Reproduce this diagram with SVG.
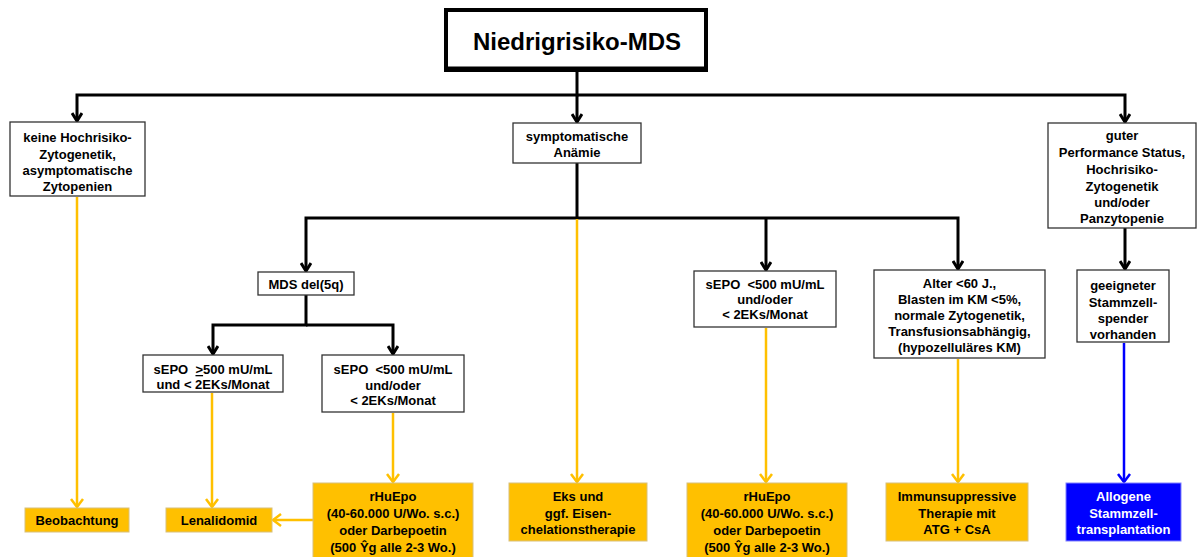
<svg xmlns="http://www.w3.org/2000/svg" width="1197" height="557" viewBox="0 0 1197 557">
<style>
.box{fill:#fff;stroke:#333;stroke-width:1.3}
.obox{fill:#FFC000;stroke:#d8c07a;stroke-width:1}
.bbox{fill:#0000FF;stroke:#8080ff;stroke-width:1}
text{font-family:"Liberation Sans",Arial,sans-serif;font-weight:bold;font-size:13px;text-anchor:middle;fill:#000}
.w{fill:#fff}
.title{font-size:24px}
.k{fill:none;stroke:#000;stroke-width:3}
.o{fill:none;stroke:#FFC000;stroke-width:2.5}
.bl{fill:none;stroke:#0000FF;stroke-width:2.5}
</style>
<defs>
<marker id="ak" markerUnits="userSpaceOnUse" viewBox="0 0 12 12" refX="10" refY="6" markerWidth="12" markerHeight="12" orient="auto"><path d="M2,1 L10,6 L2,11" fill="none" stroke="#000" stroke-width="3"/></marker>
<marker id="ao" markerUnits="userSpaceOnUse" viewBox="0 0 12 14" refX="10" refY="7" markerWidth="12" markerHeight="14" orient="auto"><path d="M2,1 L10,7 L2,13" fill="none" stroke="#FFC000" stroke-width="2.5"/></marker>
<marker id="ab" markerUnits="userSpaceOnUse" viewBox="0 0 12 14" refX="10" refY="7" markerWidth="12" markerHeight="14" orient="auto"><path d="M2,1 L10,7 L2,13" fill="none" stroke="#0000FF" stroke-width="2.5"/></marker>
</defs>
<g id="connectors">
<path class="k" d="M577,72 V95 H77 V121" marker-end="url(#ak)"/>
<path class="k" d="M577,95 V122" marker-end="url(#ak)"/>
<path class="k" d="M577,95 H1125 V122" marker-end="url(#ak)"/>
<path class="k" d="M1125,228 V269" marker-end="url(#ak)"/>
<path class="k" d="M577,163 V218"/>
<path class="k" d="M577,218 H306 V271" marker-end="url(#ak)"/>
<path class="k" d="M577,218 H958 V269" marker-end="url(#ak)"/>
<path class="k" d="M766,218 V270" marker-end="url(#ak)"/>
<path class="k" d="M306,295 V325 H213 V354" marker-end="url(#ak)"/>
<path class="k" d="M306,325 H393 V354" marker-end="url(#ak)"/>
<path class="o" d="M77,197 V507" marker-end="url(#ao)"/>
<path class="o" d="M212,393 V507" marker-end="url(#ao)"/>
<path class="o" d="M393,413 V482" marker-end="url(#ao)"/>
<path class="o" d="M577,219 V482" marker-end="url(#ao)"/>
<path class="o" d="M766,328 V482" marker-end="url(#ao)"/>
<path class="o" d="M958,359 V482" marker-end="url(#ao)"/>
<path class="o" d="M313,520 H273" marker-end="url(#ao)"/>
<path class="bl" d="M1124,343 V482" marker-end="url(#ab)"/>
</g>
<g id="n_root">
<rect x="446" y="10" width="260" height="60" fill="#fff" stroke="#000" stroke-width="4"/>
<line x1="444" y1="69" x2="708" y2="69" stroke="#000" stroke-width="5"/>
<text class="title" x="577" y="50">Niedrigrisiko-MDS</text>
</g>
<g id="n_keine">
<rect class="box" x="10" y="122" width="135" height="74"/>
<text x="77.5" y="142">keine Hochrisiko-</text>
<text x="77.5" y="159">Zytogenetik,</text>
<text x="77.5" y="175">asymptomatische</text>
<text x="77.5" y="191">Zytopenien</text>
</g>
<g id="n_sympt">
<rect class="box" x="513" y="123" width="128" height="40"/>
<text x="577" y="141">symptomatische</text>
<text x="577" y="157">Anämie</text>
</g>
<g id="n_guter">
<rect class="box" x="1048" y="123" width="148" height="105"/>
<text x="1122" y="140">guter</text>
<text x="1122" y="157">Performance Status,</text>
<text x="1122" y="174">Hochrisiko-</text>
<text x="1122" y="191">Zytogenetik</text>
<text x="1122" y="207">und/oder</text>
<text x="1122" y="223">Panzytopenie</text>
</g>
<g id="n_spender">
<rect class="box" x="1077" y="270" width="92" height="72"/>
<text x="1123" y="290">geeigneter</text>
<text x="1123" y="307">Stammzell-</text>
<text x="1123" y="323">spender</text>
<text x="1123" y="339">vorhanden</text>
</g>
<g id="n_mds5q">
<rect class="box" x="258" y="272" width="96" height="23"/>
<text x="306" y="289">MDS del(5q)</text>
</g>
<g id="n_sepo_ge">
<rect class="box" x="143" y="355" width="140" height="37"/>
<text x="213" y="374" xml:space="preserve">sEPO  <tspan text-decoration="underline">&gt;</tspan>500 mU/mL</text>
<text x="213" y="389">und &lt; 2EKs/Monat</text>
</g>
<g id="n_sepo_lt_l">
<rect class="box" x="322" y="355" width="142" height="57"/>
<text x="393" y="374" xml:space="preserve">sEPO  &lt;500 mU/mL</text>
<text x="393" y="390">und/oder</text>
<text x="393" y="405">&lt; 2EKs/Monat</text>
</g>
<g id="n_sepo_lt_r">
<rect class="box" x="694" y="271" width="142" height="56"/>
<text x="765" y="289" xml:space="preserve">sEPO  &lt;500 mU/mL</text>
<text x="765" y="304">und/oder</text>
<text x="765" y="319">&lt; 2EKs/Monat</text>
</g>
<g id="n_alter">
<rect class="box" x="874" y="270" width="171" height="88"/>
<text x="959.5" y="288">Alter &lt;60 J.,</text>
<text x="959.5" y="304">Blasten im KM &lt;5%,</text>
<text x="959.5" y="320">normale Zytogenetik,</text>
<text x="959.5" y="336">Transfusionsabhängig,</text>
<text x="959.5" y="352">(hypozelluläres KM)</text>
</g>
<g id="n_beob">
<rect class="obox" x="25" y="508" width="104" height="24"/>
<text x="77" y="525">Beobachtung</text>
</g>
<g id="n_lena">
<rect class="obox" x="166" y="508" width="106" height="24"/>
<text x="219" y="525">Lenalidomid</text>
</g>
<g id="n_rhuepo_l">
<rect class="obox" x="313" y="483" width="160" height="76"/>
<text x="393" y="501">rHuEpo</text>
<text x="393" y="518">(40-60.000 U/Wo. s.c.)</text>
<text x="393" y="535">oder Darbepoetin</text>
<text x="393" y="552">(500 Ŷg alle 2-3 Wo.)</text>
</g>
<g id="n_eks">
<rect class="obox" x="509" y="483" width="138" height="58"/>
<text x="578" y="501">Eks und</text>
<text x="578" y="518">ggf. Eisen-</text>
<text x="578" y="534">chelationstherapie</text>
</g>
<g id="n_rhuepo_r">
<rect class="obox" x="687" y="483" width="160" height="76"/>
<text x="767" y="501">rHuEpo</text>
<text x="767" y="518">(40-60.000 U/Wo. s.c.)</text>
<text x="767" y="535">oder Darbepoetin</text>
<text x="767" y="552">(500 Ŷg alle 2-3 Wo.)</text>
</g>
<g id="n_immun">
<rect class="obox" x="886" y="483" width="142" height="58"/>
<text x="957" y="501">Immunsuppressive</text>
<text x="957" y="518">Therapie mit</text>
<text x="957" y="534">ATG + CsA</text>
</g>
<g id="n_allo">
<rect class="bbox" x="1066" y="483" width="115" height="58"/>
<text class="w" x="1123.5" y="501">Allogene</text>
<text class="w" x="1123.5" y="518">Stammzell-</text>
<text class="w" x="1123.5" y="534">transplantation</text>
</g>
</svg>
